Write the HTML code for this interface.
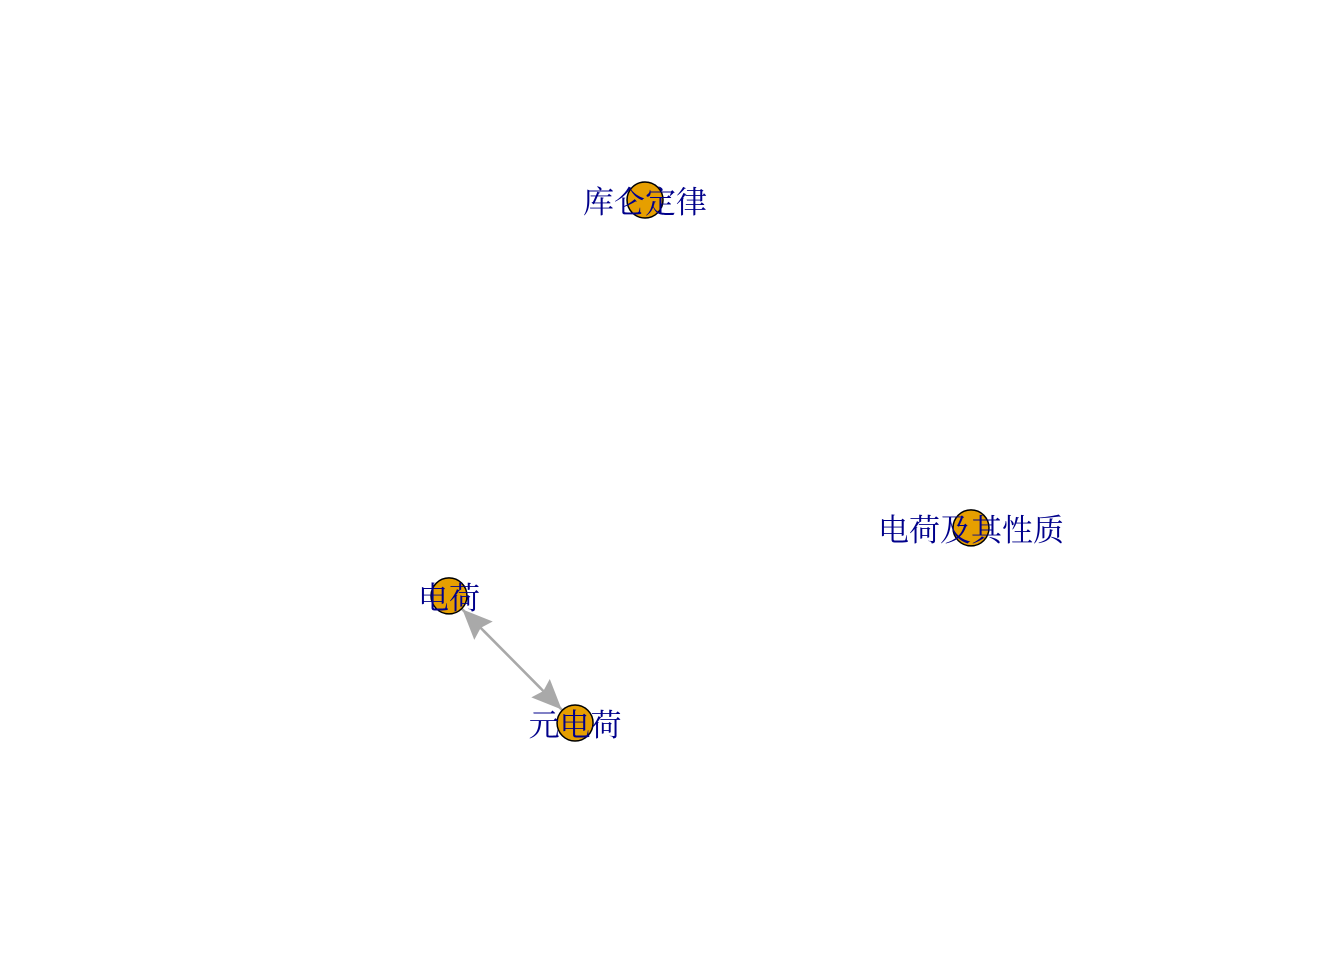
<!DOCTYPE html>
<html><head><meta charset="utf-8"><style>
html,body{margin:0;padding:0;background:#fff;}
svg{display:block;}
</style></head><body>
<svg id="chart" width="1344" height="960" viewBox="0 0 1344 960" xmlns="http://www.w3.org/2000/svg">
<rect width="1344" height="960" fill="#fff"/>
<g id="edges"></g><g id="nodes"></g><g id="labels"></g>
</svg>
<script>
const nodeNames = ["库仑定律", "电荷及其性质", "电荷", "元电荷"];
const nodeX = [-0.249, 1, -1, -0.517];
const nodeY = [1, -0.254, -0.514, -1];
const edgeFrom = [2, 3];
const edgeTo = [3, 2];

const ns = "http://www.w3.org/2000/svg";
function sx(v){ return 449 + (v + 1) / 2 * 522; }
function sy(v){ return 723 - (v + 1) / 2 * 523; }
const R = 18;
const eg = document.getElementById('edges');
const ng = document.getElementById('nodes');
const lg = document.getElementById('labels');

for (let i = 0; i < edgeFrom.length; i++) {
  const x1 = sx(nodeX[edgeFrom[i]]), y1 = sy(nodeY[edgeFrom[i]]);
  const x2 = sx(nodeX[edgeTo[i]]), y2 = sy(nodeY[edgeTo[i]]);
  const dx = x2 - x1, dy = y2 - y1, L = Math.hypot(dx, dy), ux = dx / L, uy = dy / L;
  const tx = x2 - ux * (R + 1), ty = y2 - uy * (R + 1);
  const bx = tx - ux * 30, by = ty - uy * 30;
  const line = document.createElementNS(ns, 'line');
  
  
  line.setAttribute('x1', x1 + ux * R); line.setAttribute('y1', y1 + uy * R);
  line.setAttribute('x2', bx); line.setAttribute('y2', by);
  line.setAttribute('stroke', '#a9a9a9'); line.setAttribute('stroke-width', '2.5');
  eg.appendChild(line);
  const px = -uy, py = ux;
  const arrow = document.createElementNS(ns, 'polygon');
  
  
  arrow.setAttribute('points', `${tx},${ty} ${bx + px * 13},${by + py * 13} ${bx + ux * 4},${by + uy * 4} ${bx - px * 13},${by - py * 13}`);
  arrow.setAttribute('fill', '#a9a9a9');
  eg.appendChild(arrow);
}

for (let i = 0; i < nodeNames.length; i++) {
  const c = document.createElementNS(ns, 'circle');
  
  
  c.setAttribute('cx', sx(nodeX[i])); c.setAttribute('cy', sy(nodeY[i]));
  c.setAttribute('r', R);
  c.setAttribute('fill', '#E69F00'); c.setAttribute('stroke', '#000'); c.setAttribute('stroke-width', '1.5');
  ng.appendChild(c);
  const t = document.createElementNS(ns, 'text');
  
  
  t.setAttribute('x', sx(nodeX[i])); t.setAttribute('y', sy(nodeY[i]) + 13);
  t.setAttribute('text-anchor', 'middle');
  t.setAttribute('font-size', '31');
  t.setAttribute('font-family', '"Liberation Serif", "Noto Serif CJK SC", serif');
  t.setAttribute('fill', '#00008B');
  t.textContent = nodeNames[i];
  lg.appendChild(t);
}
</script>
</body></html>
